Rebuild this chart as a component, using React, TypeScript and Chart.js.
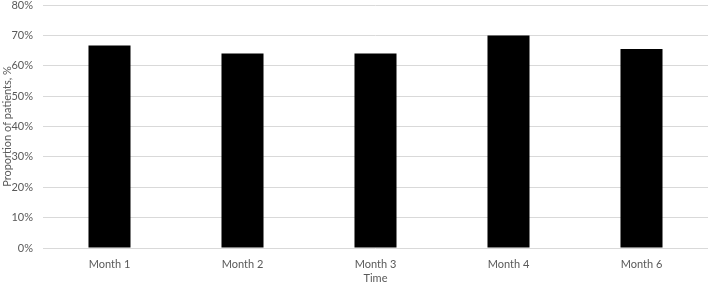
import React, { useEffect, useRef } from "react";
import { Chart, registerables } from "chart.js";

Chart.register(...registerables);

const categories = ["Month 1", "Month 2", "Month 3", "Month 4", "Month 6"];
const proportions = [66.7, 64, 64, 70, 65.5];
const yTicks = [0, 10, 20, 30, 40, 50, 60, 70, 80];
const xTitle = "Time";
const yTitle = "Proportion of patients, %";

const FONT = "Lato, 'Open Sans', sans-serif";
const TXT = "#595959";

export default function App() {
  const ref = useRef<HTMLCanvasElement>(null);
  useEffect(() => {
    if (!ref.current) return;
    const chart = new Chart(ref.current, {
      type: "bar",
      data: {
        labels: categories,
        datasets: [
          {
            data: proportions,
            backgroundColor: "#000000",
            borderWidth: 0,
            barPercentage: 0.632,
            categoryPercentage: 0.5,
          },
        ],
      },
      options: {
        responsive: false,
        animation: false,
        layout: { padding: { top: 5, right: 1, left: 0, bottom: 0 } },
        plugins: { legend: { display: false }, tooltip: { enabled: false } },
        scales: {
          x: {
            grid: { display: false, drawTicks: false },
            border: { display: false },
            ticks: { color: TXT, font: { family: FONT, size: 11 }, padding: 10, maxRotation: 0 },
            title: {
              display: true,
              text: xTitle,
              color: TXT,
              font: { family: FONT, size: 11 },
              padding: { top: 0, bottom: 1 },
            },
            afterFit: (s: any) => {
              s.height = 38;
              s.paddingLeft = 0;
              s.paddingRight = 0;
            },
          },
          y: {
            min: 0,
            max: 80,
            afterBuildTicks: (s: any) => {
              s.ticks = yTicks.map((v) => ({ value: v }));
            },
            grid: { color: "#d9d9d9", lineWidth: 1, drawTicks: false },
            border: { display: false },
            ticks: {
              color: TXT,
              font: { family: FONT, size: 11 },
              padding: 10,
              callback: (v: any) => v + "%",
            },
            title: {
              display: true,
              text: yTitle,
              color: TXT,
              font: { family: FONT, size: 11 },
              padding: { top: 1, bottom: 0 },
            },
            afterFit: (s: any) => {
              s.width = 43;
              s.paddingTop = 0;
              s.paddingBottom = 0;
            },
          },
        },
      },
    });
    return () => chart.destroy();
  }, []);
  return (
    <div style={{ position: "fixed", left: 0, top: 0, width: 709, height: 286, background: "#fff" }}>
      <canvas ref={ref} width={709} height={286} style={{ display: "block" }} />
    </div>
  );
}
